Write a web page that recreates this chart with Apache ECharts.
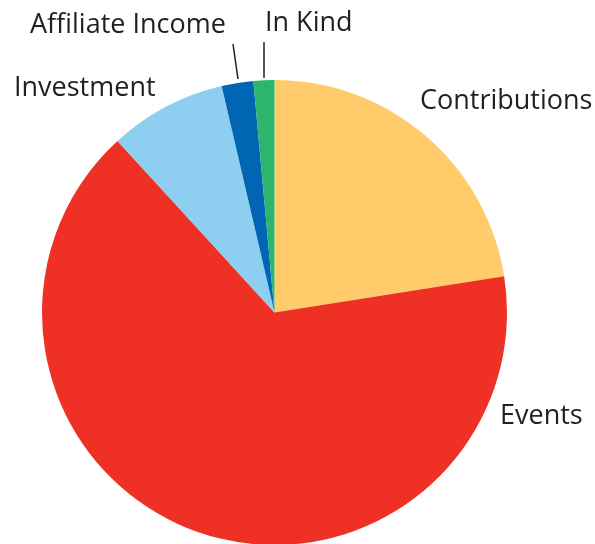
<!DOCTYPE html>
<html>
<head>
<meta charset="utf-8">
<script src="https://cdn.jsdelivr.net/npm/echarts@6/dist/echarts.min.js"></script>
<style>
html,body{margin:0;padding:0;background:#ffffff;}
#chart{width:595px;height:544px;}
</style>
</head>
<body>
<div id="chart"></div>
<script>
const categories = ['Contributions', 'Events', 'Investment', 'Affiliate Income', 'In Kind'];
const values = [22.5, 65.7, 8.15, 2.2, 1.45];
const colors = ['#FFCB6B', '#EE3124', '#8ECFF1', '#0066B3', '#2DB46D'];

// label placement (style only): [left x, middle y]
const labelPos = {
  'Contributions': [420, 101],
  'Events': [500, 416],
  'Investment': [14, 88],
  'Affiliate Income': [30, 25],
  'In Kind': [265, 23]
};
const leaderLines = {
  'Affiliate Income': [[238, 79], [233, 44]],
  'In Kind': [[264, 78], [264, 42]]
};

const chart = echarts.init(document.getElementById('chart'));
chart.setOption({
  backgroundColor: '#ffffff',
  animation: false,
  series: [{
    type: 'pie',
    center: [274.5, 312.5],
    radius: 232.5,
    startAngle: 90,
    clockwise: true,
    silent: true,
    data: categories.map((c, i) => ({
      name: c,
      value: values[i],
      itemStyle: { color: colors[i], borderWidth: 0 },
      labelLine: { show: !!leaderLines[c] }
    })),
    label: {
      show: true,
      position: 'outside',
      formatter: '{b}',
      fontFamily: 'Open Sans',
      fontSize: 27,
      color: '#231F20',
      overflow: 'none',
      width: 300
    },
    labelLine: {
      show: true,
      lineStyle: { color: '#231F20', width: 1.5 }
    },
    labelLayout: function (p) {
      const name = categories[p.dataIndex];
      const pos = labelPos[name];
      const res = { x: pos[0], y: pos[1], align: 'left', verticalAlign: 'middle' };
      if (leaderLines[name]) res.labelLinePoints = leaderLines[name];
      return res;
    }
  }]
});
</script>
</body>
</html>
